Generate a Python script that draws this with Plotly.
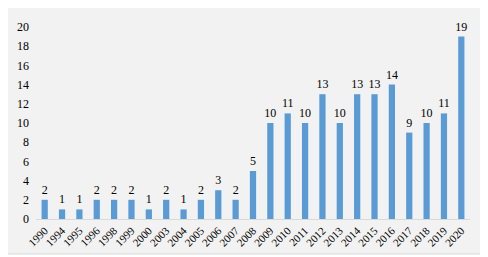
import plotly.graph_objects as go

years = ["1990", "1994", "1995", "1996", "1998", "1999", "2000", "2003", "2004", "2005",
         "2006", "2007", "2008", "2009", "2010", "2011", "2012", "2013", "2014", "2015",
         "2016", "2017", "2018", "2019", "2020"]
counts = [2, 1, 1, 2, 2, 2, 1, 2, 1, 2, 3, 2, 5, 10, 11, 10, 13, 10, 13, 13, 14, 9, 10, 11, 19]
y_ticks = [0, 2, 4, 6, 8, 10, 12, 14, 16, 18, 20]

font_family = "Times New Roman, Liberation Serif, DejaVu Serif, serif"

# page body has an 8px default margin; size the figure to fit the 488x257 window
OFF = 8
W, H = 488 - OFF, 257 - OFF
l, r, t, b = 36 - OFF, 18, 27 - OFF, 38
pw, ph = W - l - r, H - t - b

def px_x(x):
    return (x - OFF - l) / pw

def px_y(y):
    return (H - b - (y - OFF)) / ph

fig = go.Figure(go.Bar(
    x=years, y=counts,
    marker=dict(color="#5b9bd5", line=dict(width=0)),
    width=0.36,
    text=[str(v) for v in counts],
    textposition="outside",
    textangle=0,
    constraintext="none",
    textfont=dict(family=font_family, size=12, color="#000000"),
    outsidetextfont=dict(family=font_family, size=12, color="#000000"),
    cliponaxis=False,
))

fig.add_shape(type="rect", xref="paper", yref="paper",
              x0=px_x(5), x1=px_x(483), y0=px_y(254), y1=px_y(3),
              fillcolor="#f2f2f2", line=dict(color="#d9d9d9", width=1), layer="below")

fig.update_layout(
    width=W, height=H,
    margin=dict(l=l, r=r, t=t, b=b, pad=0),
    paper_bgcolor="#ffffff",
    plot_bgcolor="rgba(0,0,0,0)",
    showlegend=False,
    font=dict(family=font_family, size=11, color="#000000"),
)
fig.update_xaxes(
    type="category",
    tickangle=-45,
    tickfont=dict(family=font_family, size=11, color="#000000"),
    showgrid=False,
    showline=True, linecolor="#d9d9d9", linewidth=1,
    ticks="",
    zeroline=False,
    automargin=False,
)
fig.update_yaxes(
    range=[0, 20],
    tickvals=y_ticks,
    tickfont=dict(family=font_family, size=12, color="#000000"),
    showgrid=False,
    showline=False,
    zeroline=False,
    ticks="",
    ticklabelstandoff=6,
    automargin=False,
)

fig.write_html("out.html")
